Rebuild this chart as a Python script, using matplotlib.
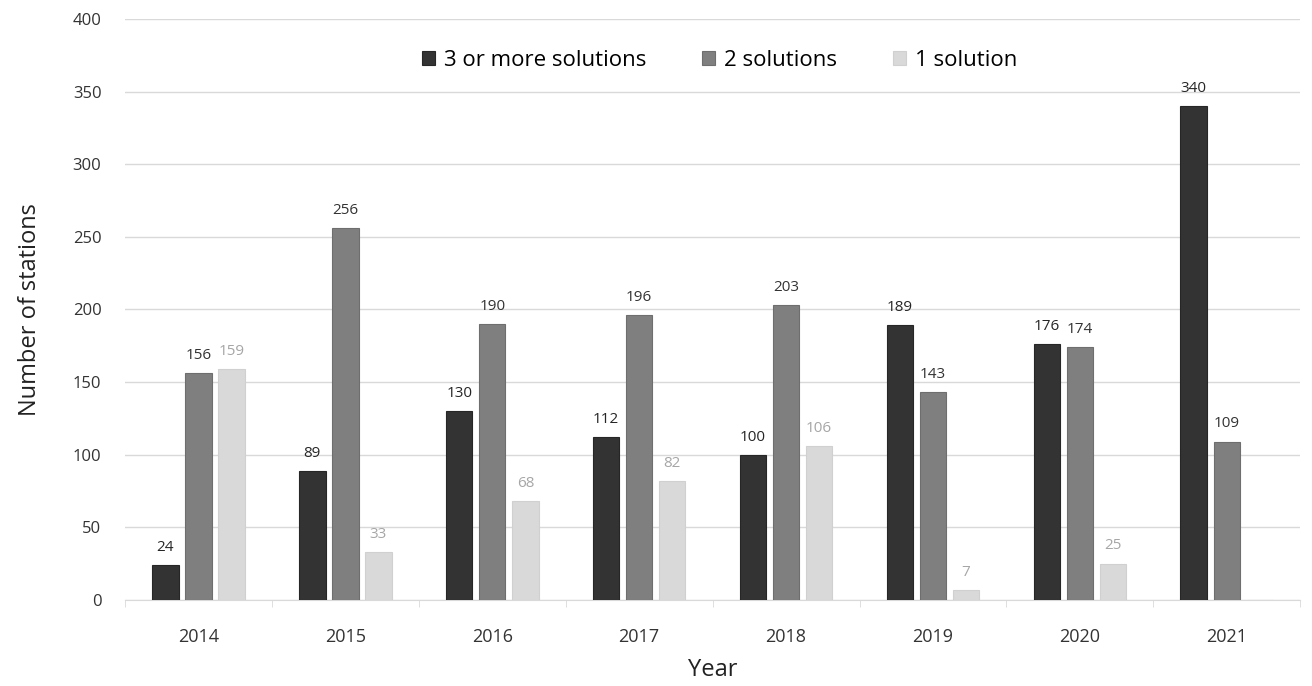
import matplotlib.pyplot as plt
import numpy as np

years = ["2014", "2015", "2016", "2017", "2018", "2019", "2020", "2021"]
three_plus = [24, 89, 130, 112, 100, 189, 176, 340]
two_sol = [156, 256, 190, 196, 203, 143, 174, 109]
one_sol = [159, 33, 68, 82, 106, 7, 25, 0]

plt.rcParams['font.family'] = ['Open Sans', 'DejaVu Sans']

fig = plt.figure(figsize=(13.12, 6.86), dpi=100)
ax = fig.add_axes([0.0953, 0.1254, 0.8957, 0.847])

x = np.arange(len(years))
w = 0.18
off = 0.225
series = [
    (three_plus, "3 or more solutions", "#333333", "#262626", "#262626"),
    (two_sol, "2 solutions", "#7f7f7f", "#6e6e6e", "#333333"),
    (one_sol, "1 solution", "#d9d9d9", "#d0d0d0", "#a6a6a6"),
]
for i, (vals, name, col, edge, lcol) in enumerate(series):
    pos = x + (i - 1) * off
    ax.bar(pos, vals, w, color=col, edgecolor=edge, linewidth=0.8, label=name, zorder=3)
    for p, v in zip(pos, vals):
        if v > 0:
            ax.text(p, v + 7, str(v), ha="center", va="bottom", fontsize=11, color=lcol)

ax.set_xlim(-0.5, len(years) - 0.5)
ax.set_ylim(0, 400)
ax.set_yticks(range(0, 401, 50))
ax.set_xticks(x)
ax.set_xticklabels(years)
ax.set_xticks(np.arange(-0.5, len(years), 1), minor=True)
ax.tick_params(axis="x", which="major", length=0, pad=20, labelsize=13, labelcolor="#333333")
ax.tick_params(axis="x", which="minor", length=5, color="#d9d9d9", direction="out")
ax.tick_params(axis="y", length=0, pad=17, labelsize=12, labelcolor="#333333")
ax.grid(axis="y", color="#d9d9d9", linewidth=1, zorder=0)
for s in ["top", "right", "left"]:
    ax.spines[s].set_visible(False)
ax.spines["bottom"].set_color("#d9d9d9")

ax.set_xlabel("Year", fontsize=17, labelpad=9, color="#222222")
ax.set_ylabel("Number of stations", fontsize=17, labelpad=22, color="#222222")

ax.legend(loc="center", bbox_to_anchor=(0.506, 0.929), ncol=3, frameon=False,
          fontsize=16, handlelength=0.6, handleheight=0.6, columnspacing=2.5,
          handletextpad=0.4)

plt.savefig("out.png")
